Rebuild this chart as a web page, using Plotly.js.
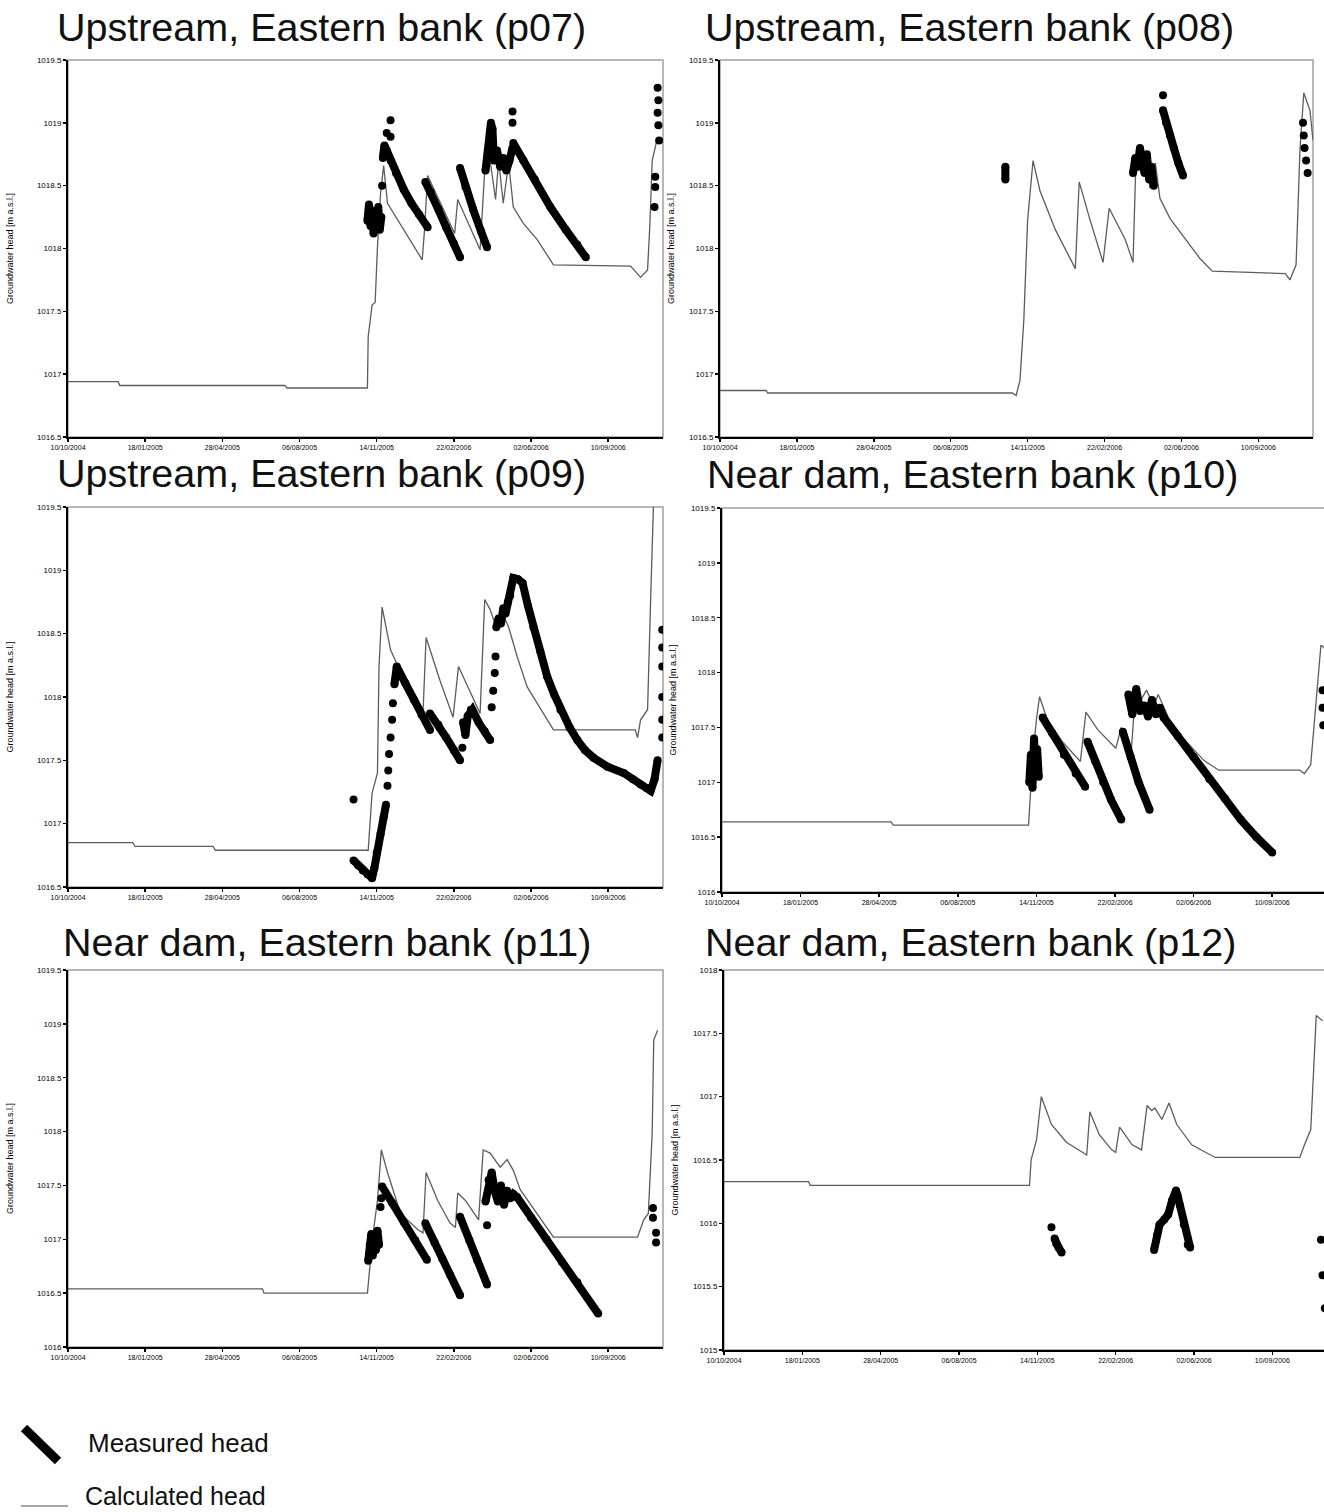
<!DOCTYPE html>
<html><head><meta charset="utf-8">
<script src="https://cdn.plot.ly/plotly-3.0.1.min.js"></script>
<style>html,body{margin:0;padding:0;overflow:hidden;background:#fff}#chart{width:1336px;height:1512px}</style>
</head><body><div id="chart"></div>
<script>
// ---------- axis data ----------
const tickDays = [0,100,200,300,400,500,600,700];
const tickLabels = ['10/10/2004','18/01/2005','28/04/2005','06/08/2005','14/11/2005','22/02/2006','02/06/2006','10/09/2006'];
const xEndDay = 771;
const panelTitles = ['Upstream, Eastern bank (p07)','Upstream, Eastern bank (p08)','Upstream, Eastern bank (p09)',
  'Near dam, Eastern bank (p10)','Near dam, Eastern bank (p11)','Near dam, Eastern bank (p12)'];
const yRanges = [[1016.5,1019.5],[1016.5,1019.5],[1016.5,1019.5],[1016,1019.5],[1016,1019.5],[1015,1018]];
const yAxisTitle = 'Groundwater head [m a.s.l.]';
const legendLabels = ['Measured head','Calculated head'];

// ---------- series (days since 10/10/2004, head in m a.s.l.) ----------
const p07CalcDay  = [0,65,67,281,284,388,389,394,398,401,405,409,414,459,462,466,501,505,534,537,541,547,554,558,564,571,577,590,608,629,729,742,751,754,757,763];
const p07CalcHead = [1016.94,1016.94,1016.91,1016.91,1016.89,1016.89,1017.30,1017.55,1017.57,1018.01,1018.44,1018.66,1018.36,1017.91,1018.15,1018.58,1018.12,1018.39,1017.99,1018.35,1018.73,1018.70,1018.39,1018.70,1018.36,1018.68,1018.33,1018.20,1018.07,1017.87,1017.86,1017.77,1017.83,1018.19,1018.70,1018.86];
const p07MeasDay  = [388,390,392,394,396,398,400,402,404,406,null,407,null,408,410,413,418,425,435,445,455,466,null,418,null,418,null,413,null,
  463,470,480,490,500,508,null,508,515,525,535,543,null,541,544,547,548,550,552,556,560,564,568,572,576,null,576,null,576,null,
  577,590,605,625,645,660,671,null,764,null,765,null,764,null,765,null,766,null,761,null,761,null,760];
const p07MeasHead = [1018.22,1018.35,1018.18,1018.30,1018.12,1018.28,1018.20,1018.33,1018.15,1018.25,null,1018.50,null,1018.72,1018.82,1018.78,1018.70,1018.60,1018.47,1018.36,1018.27,1018.17,null,1019.02,null,1018.89,null,1018.92,null,
  1018.53,1018.45,1018.31,1018.17,1018.04,1017.93,null,1018.64,1018.49,1018.31,1018.14,1018.01,null,1018.62,1018.75,1018.88,1019.00,1018.95,1018.70,1018.78,1018.65,1018.72,1018.62,1018.70,1018.80,null,1019.09,null,1019.00,null,
  1018.84,1018.70,1018.55,1018.33,1018.15,1018.03,1017.93,null,1019.28,null,1019.18,null,1019.08,null,1018.98,null,1018.86,null,1018.57,null,1018.49,null,1018.33];

const p08CalcDay  = [0,60,62,380,385,390,395,400,407,416,436,462,467,481,498,506,527,537,541,547,553,559,566,572,585,605,624,640,735,741,749,754,759,767,771];
const p08CalcHead = [1016.87,1016.87,1016.85,1016.85,1016.83,1016.95,1017.43,1018.23,1018.70,1018.46,1018.15,1017.84,1018.53,1018.23,1017.89,1018.32,1018.07,1017.89,1018.74,1018.61,1018.77,1018.48,1018.68,1018.40,1018.24,1018.08,1017.92,1017.82,1017.80,1017.75,1017.87,1018.78,1019.24,1019.10,1018.86];
const p08MeasDay  = [371,371,null,537,540,543,546,549,552,555,558,561,564,null,576,null,576,580,585,590,596,602,null,758,null,759,null,760,null,762,null,764];
const p08MeasHead = [1018.65,1018.55,null,1018.60,1018.72,1018.65,1018.80,1018.70,1018.60,1018.75,1018.55,1018.65,1018.50,null,1019.22,null,1019.10,1019.00,1018.90,1018.80,1018.68,1018.58,null,1019.00,null,1018.90,null,1018.80,null,1018.70,null,1018.60];

const p09CalcDay  = [0,84,87,188,191,389,394,401,403,407,418,440,460,464,482,499,506,534,540,547,556,563,571,582,595,608,629,735,738,742,751,755,759,761];
const p09CalcHead = [1016.85,1016.85,1016.82,1016.82,1016.79,1016.79,1017.24,1017.40,1018.24,1018.71,1018.37,1018.08,1017.87,1018.47,1018.13,1017.84,1018.24,1017.87,1018.77,1018.69,1018.53,1018.66,1018.55,1018.32,1018.08,1017.95,1017.74,1017.74,1017.68,1017.82,1017.90,1018.77,1019.50,1020.00];
const p09MeasDay  = [370,null,370,376,382,388,394,397,400,405,409,412,null,414,null,415,null,416,null,418,null,420,null,421,null,
  423,426,437,448,458,469,null,469,480,490,500,508,null,511,null,512,515,518,522,524,532,540,547,null,549,null,551,null,553,null,554,null,
  555,558,561,564,567,570,573,577,583,589,596,603,612,621,630,638,650,660,670,681,699,720,732,742,750,755,760,764,null,
  770,null,770,null,770,null,770,null,770,null,770];
const p09MeasHead = [1017.19,null,1016.71,1016.67,1016.63,1016.60,1016.57,1016.65,1016.77,1016.92,1017.05,1017.15,null,1017.30,null,1017.42,null,1017.55,null,1017.68,null,1017.82,null,1017.95,null,
  1018.10,1018.24,1018.11,1017.98,1017.86,1017.74,null,1017.87,1017.78,1017.68,1017.58,1017.50,null,1017.60,null,1017.80,1017.70,1017.85,1017.90,1017.90,1017.80,1017.73,1017.66,null,1017.92,null,1018.05,null,1018.19,null,1018.32,null,
  1018.55,1018.62,1018.58,1018.70,1018.66,1018.75,1018.80,1018.94,1018.93,1018.90,1018.72,1018.55,1018.36,1018.16,1018.02,1017.90,1017.76,1017.66,1017.58,1017.52,1017.45,1017.40,1017.35,1017.31,1017.28,1017.26,1017.35,1017.50,null,
  1018.53,null,1018.39,null,1018.24,null,1018.00,null,1017.82,null,1017.68];

const p10CalcDay  = [0,215,218,390,395,400,404,414,433,456,463,478,501,508,521,526,533,540,549,555,568,587,613,632,735,741,749,756,762,769];
const p10CalcHead = [1016.64,1016.64,1016.61,1016.61,1017.20,1017.57,1017.78,1017.57,1017.37,1017.19,1017.64,1017.48,1017.31,1017.50,1017.31,1017.82,1017.75,1017.84,1017.70,1017.80,1017.59,1017.40,1017.20,1017.11,1017.11,1017.08,1017.16,1017.75,1018.25,1018.21];
const p10MeasDay  = [391,393,395,397,399,401,403,null,408,420,435,450,462,null,465,475,485,495,508,null,510,520,530,544,null,
  517,522,527,532,537,542,547,552,557,562,null,562,580,600,620,640,660,680,700,null,764,null,764,null,765];
const p10MeasHead = [1017.00,1017.25,1016.95,1017.40,1017.10,1017.30,1017.05,null,1017.59,1017.45,1017.25,1017.08,1016.96,null,1017.37,1017.19,1017.00,1016.84,1016.66,null,1017.46,1017.23,1017.00,1016.75,null,
  1017.80,1017.62,1017.85,1017.65,1017.70,1017.60,1017.75,1017.62,1017.68,1017.59,null,1017.59,1017.42,1017.23,1017.03,1016.85,1016.66,1016.50,1016.36,null,1017.84,null,1017.68,null,1017.52];

const p11CalcDay  = [0,252,254,388,392,396,401,406,414,431,453,460,464,479,495,502,505,515,532,538,547,560,569,577,586,608,629,738,746,752,757,759,764];
const p11CalcHead = [1016.54,1016.54,1016.50,1016.50,1016.81,1017.09,1017.36,1017.83,1017.62,1017.24,1017.09,1017.06,1017.62,1017.36,1017.15,1017.11,1017.43,1017.36,1017.18,1017.83,1017.80,1017.67,1017.74,1017.64,1017.46,1017.24,1017.02,1017.02,1017.18,1017.24,1017.99,1018.85,1018.94];
const p11MeasDay  = [389,391,393,395,397,399,401,403,null,405,null,406,null,407,420,435,450,465,null,463,475,485,495,508,null,508,520,530,543,null,
  543,null,541,545,549,553,557,561,565,569,573,577,582,null,582,600,620,640,660,687,null,758,null,758,null,762,null,762];
const p11MeasHead = [1016.80,1016.95,1017.05,1016.85,1017.00,1016.90,1017.08,1016.95,null,1017.30,null,1017.38,null,1017.49,1017.34,1017.16,1016.99,1016.81,null,1017.15,1016.97,1016.82,1016.67,1016.48,null,1017.21,1016.99,1016.81,1016.58,null,
  1017.13,null,1017.35,1017.55,1017.62,1017.45,1017.35,1017.50,1017.32,1017.45,1017.38,1017.42,1017.39,null,1017.39,1017.20,1017.00,1016.79,1016.60,1016.31,null,1017.29,null,1017.20,null,1017.06,null,1016.97];

const p12CalcDay  = [0,108,110,390,392,399,405,418,437,463,467,479,495,500,505,521,533,540,546,550,559,568,578,597,627,735,741,749,756,764];
const p12CalcHead = [1016.33,1016.33,1016.30,1016.30,1016.50,1016.66,1017.00,1016.78,1016.64,1016.54,1016.88,1016.70,1016.58,1016.56,1016.76,1016.62,1016.58,1016.93,1016.89,1016.91,1016.82,1016.95,1016.78,1016.62,1016.52,1016.52,1016.62,1016.74,1017.64,1017.60];
const p12MeasDay  = [418,null,422,424,427,431,null,549,553,556,562,567,572,577,579,582,587,592,595,null,762,null,764,null,767];
const p12MeasHead = [1015.97,null,1015.88,1015.84,1015.81,1015.77,null,1015.79,1015.91,1015.99,1016.03,1016.07,1016.18,1016.26,1016.22,1016.14,1015.99,1015.83,1015.81,null,1015.87,null,1015.59,null,1015.33];

const calcDays  = [p07CalcDay,p08CalcDay,p09CalcDay,p10CalcDay,p11CalcDay,p12CalcDay];
const calcHeads = [p07CalcHead,p08CalcHead,p09CalcHead,p10CalcHead,p11CalcHead,p12CalcHead];
const measDays  = [p07MeasDay,p08MeasDay,p09MeasDay,p10MeasDay,p11MeasDay,p12MeasDay];
const measHeads = [p07MeasHead,p08MeasHead,p09MeasHead,p10MeasHead,p11MeasHead,p12MeasHead];

// ---------- helpers ----------
const BASE = Date.UTC(2004, 9, 10);
function dayToDate(d){ if (d === null) return null; return new Date(BASE + d*86400000).toISOString().slice(0,10); }

const W = 1336, H = 1512;
const boxes = [
  {x0:68,x1:663,y0:60,y1:437},
  {x0:720,x1:1313,y0:60,y1:437},
  {x0:68,x1:663,y0:507,y1:887},
  {x0:722,x1:1328,y0:508,y1:892},
  {x0:68,x1:663,y0:970,y1:1347},
  {x0:724,x1:1328,y0:970,y1:1350}];
const titlePos = [{x:55,y:27},{x:703,y:27},{x:55,y:473},{x:705,y:474},{x:61,y:942},{x:703,y:942}];
const standoffs = [22,13,22,13,22,13];

const FONT = 'Liberation Sans, Arial, sans-serif';
const traces = [];
const layout = {
  width: W, height: H, margin:{l:0,r:0,t:0,b:0},
  paper_bgcolor:'#fff', plot_bgcolor:'#fff', showlegend:false,
  font:{family:FONT, color:'#000'}, separators:'.,',
  shapes:[], annotations:[]
};

for (let i=0;i<6;i++){
  const n = i+1, xa = 'x'+(n===1?'':n), ya = 'y'+(n===1?'':n);
  const b = boxes[i];
  traces.push({type:'scatter', mode:'lines', x:calcDays[i].map(dayToDate), y:calcHeads[i],
    xaxis:xa, yaxis:ya, line:{color:'#5c5c5c', width:1.3}, hoverinfo:'skip'});
  traces.push({type:'scatter', mode:'lines+markers', x:measDays[i].map(dayToDate), y:measHeads[i],
    xaxis:xa, yaxis:ya, connectgaps:false, line:{color:'#000', width:8}, marker:{color:'#000', size:8}, hoverinfo:'skip'});
  layout['xaxis'+(n===1?'':n)] = {
    type:'date', domain:[b.x0/W, b.x1/W], anchor:ya,
    range:[dayToDate(0), dayToDate(xEndDay)],
    tickmode:'array', tickvals:tickDays.map(dayToDate), ticktext:tickLabels,
    ticks:'outside', ticklen:3, tickwidth:1.5, tickcolor:'#000',
    showline:true, linecolor:'#000', linewidth:2, showgrid:false, zeroline:false,
    tickfont:{size:7, family:FONT, color:'#000'}
  };
  layout['yaxis'+(n===1?'':n)] = {
    domain:[1-b.y1/H, 1-b.y0/H], anchor:xa, range:yRanges[i], dtick:0.5, tick0:yRanges[i][0],
    tickformat:'.1~f',
    ticks:'outside', ticklen:3, tickwidth:1.5, tickcolor:'#000',
    showline:true, linecolor:'#000', linewidth:2, showgrid:false, zeroline:false,
    tickfont:{size:8, family:FONT, color:'#000'},
    title:{text:yAxisTitle, font:{size:9, family:FONT, color:'#000'}, standoff:standoffs[i]}
  };
  layout.shapes.push({type:'rect', xref:xa+' domain', yref:ya+' domain', x0:0, x1:1, y0:0, y1:1,
    line:{color:'#a0a0a0', width:1.5}, layer:'below'});
  layout.annotations.push({xref:'paper', yref:'paper', x:titlePos[i].x/W, y:1-titlePos[i].y/H,
    xanchor:'left', yanchor:'middle', showarrow:false, text:panelTitles[i],
    font:{size:39.5, family:FONT, color:'#111'}});
}

// legend drawn manually
layout.shapes.push({type:'line', xref:'paper', yref:'paper', x0:24/W, y0:1-1428/H, x1:58/W, y1:1-1461/H,
  line:{color:'#000', width:9}});
layout.shapes.push({type:'line', xref:'paper', yref:'paper', x0:21/W, y0:1-1506/H, x1:68/W, y1:1-1506/H,
  line:{color:'#888', width:1.5}});
layout.annotations.push({xref:'paper', yref:'paper', x:86/W, y:1-1443/H, xanchor:'left', yanchor:'middle', showarrow:false,
  text:legendLabels[0], font:{size:26, family:FONT, color:'#111'}});
layout.annotations.push({xref:'paper', yref:'paper', x:83/W, y:1-1496/H, xanchor:'left', yanchor:'middle', showarrow:false,
  text:legendLabels[1], font:{size:25, family:FONT, color:'#111'}});

Plotly.newPlot('chart', traces, layout, {staticPlot:true, responsive:false});
</script></body></html>
